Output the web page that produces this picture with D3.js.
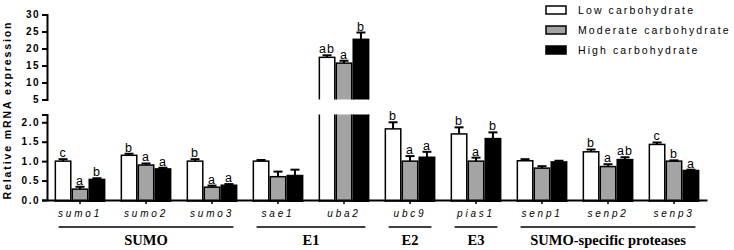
<!DOCTYPE html>
<html>
<head>
<meta charset="utf-8">
<script src="https://cdn.jsdelivr.net/npm/d3@7"></script>
<style>
  body { margin: 0; background: #fff; }
  svg { display: block; }
  .tick text { font-family: "Liberation Sans", Arial, sans-serif; }
</style>
</head>
<body>
<svg id="chart" width="734" height="250"></svg>
<script>
// data
var genes = ["sumo1", "sumo2", "sumo3", "sae1", "uba2", "ubc9", "pias1", "senp1", "senp2", "senp3"];
var series = ["Low carbohydrate", "Moderate carbohydrate", "High carbohydrate"];
var lowVals  = [1.0, 1.15, 1.0, 1.0, 17.4, 1.83, 1.7, 1.01, 1.24, 1.43];
var modVals  = [0.28, 0.9, 0.33, 0.6, 15.7, 1.0, 1.0, 0.82, 0.86, 1.0];
var highVals = [0.53, 0.8, 0.38, 0.63, 22.7, 1.1, 1.58, 0.98, 1.04, 0.76];
var lowErr  = [0.05, 0.04, 0.05, 0.03, 0.6, 0.17, 0.17, 0.04, 0.06, 0.05];
var modErr  = [0.06, 0.04, 0.04, 0.13, 0.7, 0.13, 0.09, 0.05, 0.06, 0.02];
var highErr = [0.03, 0.03, 0.03, 0.15, 2.0, 0.14, 0.16, 0.03, 0.06, 0.02];
var lowLet  = ["c", "b", "b", "", "ab", "b", "b", "", "b", "c"];
var modLet  = ["a", "a", "a", "", "a", "a", "a", "", "a", "b"];
var highLet = ["b", "a", "a", "", "b", "a", "b", "", "ab", "a"];
var lowTicks = [0, 0.5, 1.0, 1.5, 2.0];
var highTicks = [5, 10, 15, 20, 25, 30];
var groups = [
  {name: "SUMO", from: "sumo1", to: "sumo3"},
  {name: "E1", from: "sae1", to: "uba2"},
  {name: "E2", from: "ubc9", to: "ubc9"},
  {name: "E3", from: "pias1", to: "pias1"},
  {name: "SUMO-specific proteases", from: "senp1", to: "senp3"}
];

var fills = ["#ffffff", "#a4a4a4", "#000000"];
var vals = [lowVals, modVals, highVals];
var errs = [lowErr, modErr, highErr];
var lets = [lowLet, modLet, highLet];

var svg = d3.select("#chart");

var x = d3.scaleBand().domain(genes).range([47, 707])
    .paddingInner(0.23).paddingOuter(0.115);
var xs = d3.scaleBand().domain(d3.range(3)).range([0, x.bandwidth()]);

var yLow = d3.scaleLinear().domain([0, 2.2]).range([200, 114.5]);
var yHigh = d3.scaleLinear().domain([5, 30]).range([99.5, 14.5]);

var bars = [];
genes.forEach(function (g, i) {
  for (var s = 0; s < 3; s++) {
    bars.push({gene: g, s: s, v: vals[s][i], e: errs[s][i], l: lets[s][i]});
  }
});

// clip paths for the two panels
var defs = svg.append("defs");
defs.append("clipPath").attr("id", "clipLow").append("rect")
    .attr("x", 0).attr("y", yLow.range()[1]).attr("width", 734).attr("height", 200 - yLow.range()[1] + 2);
defs.append("clipPath").attr("id", "clipHigh").append("rect")
    .attr("x", 0).attr("y", 0).attr("width", 734).attr("height", yHigh.range()[0]);

function drawPanel(y, clip, top, bottom) {
  var g = svg.append("g").attr("clip-path", "url(#" + clip + ")");
  var sel = bars.filter(function (d) { return d.v > bottom; });
  g.selectAll("rect.bar").data(sel).enter().append("rect")
      .attr("class", "bar")
      .attr("x", function (d) { return x(d.gene) + xs(d.s) + 0.75; })
      .attr("width", xs.bandwidth() - 1.5)
      .attr("y", function (d) { return y(Math.min(d.v, top + 5)); })
      .attr("height", function (d) { return y(Math.max(bottom, y.domain()[0])) - y(Math.min(d.v, top + 5)) + 2; })
      .attr("fill", function (d) { return fills[d.s]; })
      .attr("stroke", "#000")
      .attr("stroke-width", 1.5);

  var shown = sel.filter(function (d) { return d.v <= top; });
  // error bars (upward only)
  var eb = svg.append("g");
  eb.selectAll("line.err").data(shown).enter().append("line")
      .attr("x1", function (d) { return x(d.gene) + xs(d.s) + xs.bandwidth() / 2; })
      .attr("x2", function (d) { return x(d.gene) + xs(d.s) + xs.bandwidth() / 2; })
      .attr("y1", function (d) { return y(d.v); })
      .attr("y2", function (d) { return y(d.v + d.e); })
      .attr("stroke", "#000").attr("stroke-width", 2);
  eb.selectAll("line.cap").data(shown).enter().append("line")
      .attr("x1", function (d) { return x(d.gene) + xs(d.s) + xs.bandwidth() / 2 - 4.5; })
      .attr("x2", function (d) { return x(d.gene) + xs(d.s) + xs.bandwidth() / 2 + 4.5; })
      .attr("y1", function (d) { return y(d.v + d.e); })
      .attr("y2", function (d) { return y(d.v + d.e); })
      .attr("stroke", "#000").attr("stroke-width", 2);
  eb.selectAll("text.let").data(shown.filter(function (d) { return d.l; })).enter().append("text")
      .attr("x", function (d) { return x(d.gene) + xs(d.s) + xs.bandwidth() / 2; })
      .attr("y", function (d) { return y(d.v + d.e) - 2; })
      .attr("text-anchor", "middle")
      .style("font-family", "Liberation Sans, Arial, sans-serif")
      .style("font-size", "12.5px")
      .style("letter-spacing", "1px")
      .text(function (d) { return d.l; });
}

drawPanel(yLow, "clipLow", 2.2, 0);
drawPanel(yHigh, "clipHigh", 30, 5);

// y axes
function styleAxis(g) {
  g.select(".domain").attr("stroke-width", 2);
  g.selectAll(".tick line").attr("stroke-width", 2);
  g.selectAll(".tick text")
      .style("font-size", "10px").style("font-weight", "bold")
      .style("letter-spacing", "1.5px").attr("x", -7);
}
svg.append("g").attr("transform", "translate(47,0)")
    .call(d3.axisLeft(yLow).tickValues(lowTicks).tickFormat(d3.format(".1f")).tickSize(5).tickSizeOuter(5))
    .call(styleAxis);
svg.append("g").attr("transform", "translate(47,0)")
    .call(d3.axisLeft(yHigh).tickValues(highTicks).tickFormat(d3.format("d")).tickSize(5).tickSizeOuter(5))
    .call(styleAxis);

// x axis
var xa = svg.append("g").attr("transform", "translate(0,200)")
    .call(d3.axisBottom(x).tickSize(4).tickSizeOuter(0));
xa.select(".domain").attr("stroke-width", 2);
xa.selectAll(".tick line").attr("stroke-width", 1.5);
xa.selectAll(".tick text")
    .attr("y", 10)
    .style("font-size", "10px").style("font-style", "italic")
    .style("letter-spacing", "2.8px");

// y title
svg.append("text")
    .attr("transform", "translate(11,110) rotate(-90)")
    .attr("text-anchor", "middle")
    .style("font-family", "Liberation Sans, Arial, sans-serif")
    .style("font-size", "10.5px").style("font-weight", "bold")
    .style("letter-spacing", "1.9px")
    .text("Relative mRNA expression");

// group brackets
var gg = svg.append("g");
groups.forEach(function (gr) {
  var x0 = x(gr.from) + 4, x1 = x(gr.to) + x.bandwidth() - 4;
  gg.append("line").attr("x1", x0).attr("x2", x1).attr("y1", 227).attr("y2", 227)
      .attr("stroke", "#000").attr("stroke-width", 1.7);
  gg.append("text").attr("x", (x0 + x1) / 2).attr("y", 245)
      .attr("text-anchor", "middle")
      .style("font-family", "Liberation Serif, Times New Roman, serif")
      .style("font-size", "14.5px").style("font-weight", "bold")
      .text(gr.name);
});

// legend
var lg = svg.append("g").attr("transform", "translate(545,0)");
series.forEach(function (s, i) {
  var row = lg.append("g").attr("transform", "translate(0," + (10 + i * 20) + ")");
  row.append("rect").attr("x", 1).attr("y", -4).attr("width", 20).attr("height", 8)
      .attr("fill", fills[i]).attr("stroke", "#000").attr("stroke-width", 1.5);
  row.append("text").attr("x", 33).attr("y", 4)
      .style("font-family", "Liberation Sans, Arial, sans-serif")
      .style("font-size", "10.5px").style("letter-spacing", "2.1px")
      .text(s);
});
</script>
</body>
</html>
